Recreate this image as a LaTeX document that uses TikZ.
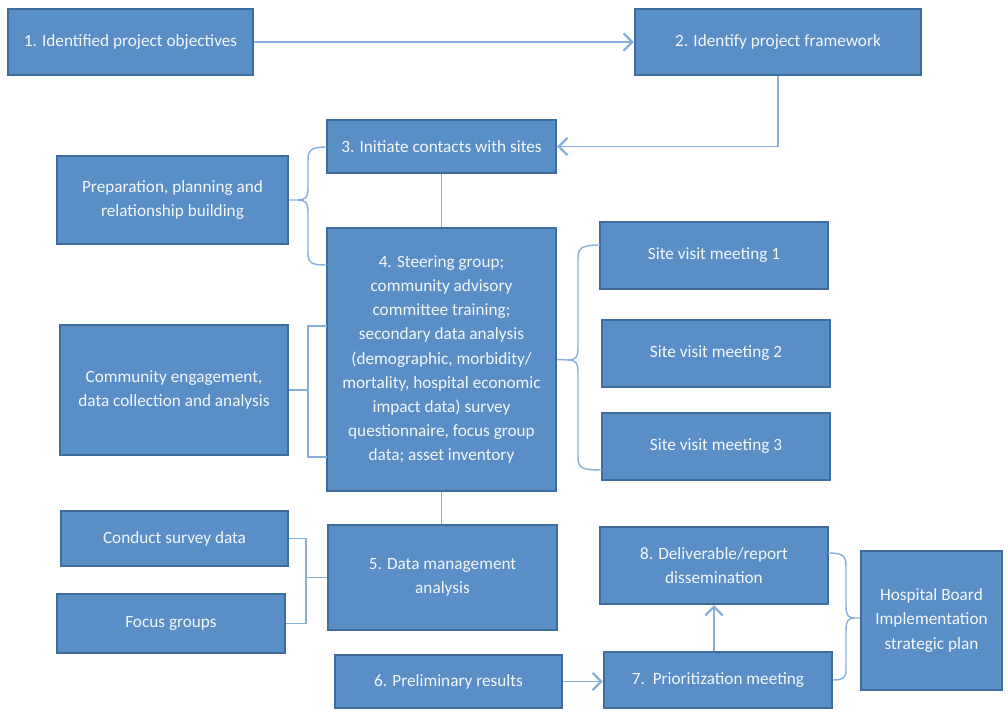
\documentclass[tikz,border=0pt]{standalone}
\usepackage{fontspec}
\setmainfont{Carlito}
\usetikzlibrary{arrows.meta}
\definecolor{boxfill}{HTML}{5A8EC6}
\definecolor{boxedge}{HTML}{3E6C9C}
\definecolor{linkc}{HTML}{86AEDC}
\definecolor{txt}{HTML}{F4F7FB}
\tikzset{
  box/.style={draw=boxedge, line width=1.2pt, fill=boxfill, text=txt, align=center,
    font=\fontsize{9.8}{13.7}\selectfont, inner sep=0pt},
  link/.style={draw=linkc, line width=0.8pt},
  arr/.style={link, -{Straight Barb[length=5pt,width=10pt,line width=1.3pt]}}
}
\newcommand\bx[6]{\node[box, minimum width={(#4-#2)*0.02cm}, minimum height={(#5-#3)*0.02cm}]
  (#1) at ({(#2+#4)/2},{(#3+#5)/2}) {#6};}
\begin{document}
\begin{tikzpicture}[x=0.02cm,y=-0.02cm]
\path[use as bounding box] (0,0) rectangle (1008,712);
\bx{b1}{8}{9}{253}{75}{1. Identified project objectives}
\bx{b2}{635}{9}{921}{75}{2. Identify project framework}
\bx{b3}{327}{120}{556}{173}{3. Initiate contacts with sites}
\bx{prep}{57}{156}{288}{244}{Preparation, planning and\\relationship building}
\bx{b4}{327}{228}{556}{491}{4. Steering group;\\community advisory\\committee training;\\secondary data analysis\\(demographic, morbidity/\\mortality, hospital economic\\impact data) survey\\questionnaire, focus group\\data; asset inventory}
\bx{s1}{600}{222}{828}{289}{Site visit meeting 1}
\bx{s2}{602}{320}{830}{387}{Site visit meeting 2}
\bx{s3}{602}{413}{830}{480}{Site visit meeting 3}
\bx{ce}{60}{325}{288}{455}{Community engagement,\\data collection and analysis}
\bx{cs}{61}{511}{288}{566}{Conduct survey data}
\bx{fg}{57}{594}{285}{653}{Focus groups}
\bx{b5}{328}{525}{557}{630}{5. Data management\\analysis}
\bx{b6}{335}{655}{562}{708}{6. Preliminary results}
\bx{b7}{604}{652}{832}{708}{7.\ \ Prioritization meeting}
\bx{b8}{600}{527}{828}{604}{8. Deliverable/report\\dissemination}
\bx{hb}{861}{551}{1002}{690}{Hospital Board\\Implementation\\strategic plan}

% straight connectors
\draw[arr] (b1.east) -- (b2.west);
\draw[arr] (b2.south) |- (b3.east);
\draw[link] (b3.south) -- (b4.north);
\draw[link] (b4.south) -- (b4.south |- b5.north);
\draw[arr] (b6.east) -- (b7.west |- b6.east);
\draw[arr] (b7.north -| b8.south) -- (b8.south);

% curly brace 1 (prep)
\coordinate (c1t) at (327,147);
\coordinate (c1b) at (327,265);
\draw[link] (c1t) .. controls (311,147) and (308,150) .. (308,160) -- (308,188)
  .. controls (308,198) and (305,200) .. (298,200) -- (prep.east |- 0,200);
\draw[link] (298,200) .. controls (305,200) and (308,202) .. (308,212) -- (308,253)
  .. controls (308,263) and (311,265) .. (c1b);

% square bracket 2 (community)
\coordinate (c2t) at (327,326);
\coordinate (c2b) at (327,457);
\draw[link] (c2t) -- (308,326) -- (308,457) -- (c2b);
\draw[link] (ce.east) -- (308,390);

% curly brace 3 (site visits)
\coordinate (c3t) at (600,245);
\coordinate (c3b) at (602,470);
\draw[link] (c3t) .. controls (582,245) and (578,248) .. (578,258) -- (578,348)
  .. controls (578,358) and (575,360) .. (568,360) -- (b4.east);
\draw[link] (568,360) .. controls (575,360) and (578,362) .. (578,372) -- (578,458)
  .. controls (578,468) and (582,470) .. (c3b);

% square bracket 4 (survey / focus groups)
\draw[link] (cs.east) -- (306,538.5) -- (306,623.5) -- (fg.east);
\draw[link] (b5.west) -- (306,577.5);

% curly brace 5 (hospital board)
\coordinate (c5t) at (828,553);
\draw[link] (c5t) .. controls (843,553) and (846,556) .. (846,566) -- (846,606)
  .. controls (846,616) and (849,618) .. (854,618) -- (hb.west |- 0,618);
\draw[link] (854,618) .. controls (849,618) and (846,620) .. (846,630) -- (846,670)
  .. controls (846,678) and (843,680) .. (b7.east);
\end{tikzpicture}
\end{document}
